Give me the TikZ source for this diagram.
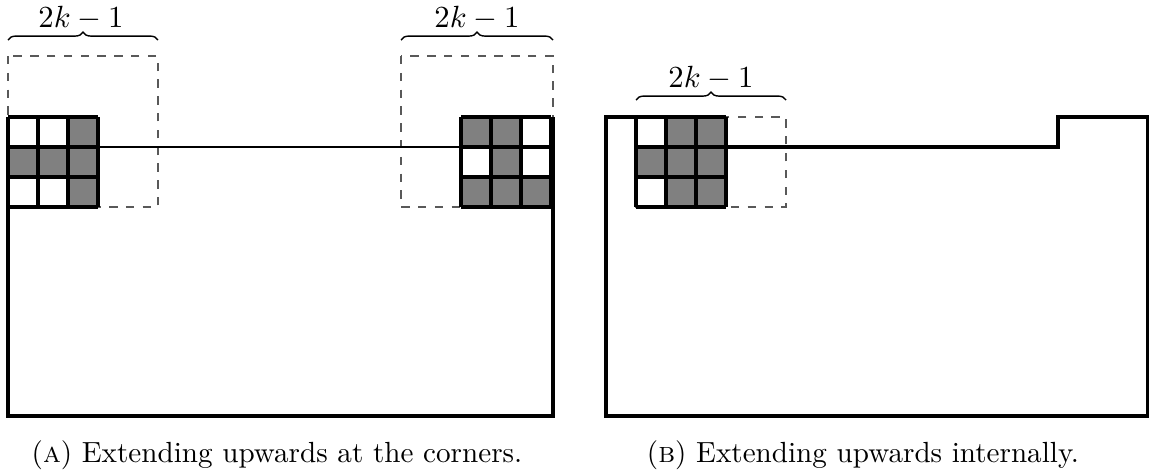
\documentclass[tikz,border=0pt]{standalone}
\usetikzlibrary{decorations.pathreplacing}
\begin{document}
\begin{tikzpicture}[x=0.357pt,y=-0.357pt,
  outline/.style={line width=1.1pt,line join=miter},
  gridline/.style={line width=1.3pt},
  hline/.style={line width=0.8pt},
  dashbox/.style={dashed,draw=black!65,line width=0.5pt},
  cellfill/.style={fill=gray},
  bracestyle/.style={decorate,decoration={brace,amplitude=2.8pt},line width=0.5pt},
  lab/.style={font=\fontsize{11}{13}\selectfont,inner sep=0pt,anchor=base},
  captext/.style={font=\fontsize{10.4}{12.5}\selectfont,inner sep=0pt,anchor=base}]
\useasboundingbox (0,0) rectangle (1149,473);
% ---------- panel A ----------
\draw[dashbox] (8,56) rectangle (158,207);
\draw[dashbox] (401,56) rectangle (553,207);
% left grid fills
\fill[cellfill] (68,117) rectangle (98,147);
\fill[cellfill] (8,147) rectangle (98,177);
\fill[cellfill] (68,177) rectangle (98,207);
% right grid fills
\fill[cellfill] (461,117) rectangle (521,147);
\fill[cellfill] (491,147) rectangle (521,177);
\fill[cellfill] (461,177) rectangle (551,207);
% grids
\foreach \i in {0,1,2,3} {
  \draw[gridline] (8+30*\i,117) -- (8+30*\i,207);
  \draw[gridline] (8,117+30*\i) -- (98,117+30*\i);
  \draw[gridline] (461+30*\i,117) -- (461+30*\i,207);
  \draw[gridline] (461,117+30*\i) -- (551,117+30*\i);
}
\draw[outline] (8,117) -- (8,416) -- (553,416) -- (553,117);
\draw[hline] (98,147) -- (461,147);
\draw[bracestyle] (8,40) -- (158,40);
\draw[bracestyle] (401,40) -- (553,40);
\node[lab] (la) at (81,27) {$2k-1$};
\node[lab] (lb) at (477,27) {$2k-1$};
\node[captext] (capa) at (277,462) {(\textsc{a}) Extending upwards at the corners.};
% ---------- panel B ----------
\draw[dashbox] (636,117) rectangle (786,207);
\fill[cellfill] (666,117) rectangle (726,207);
\fill[cellfill] (636,147) rectangle (666,177);
\foreach \i in {0,1,2,3} {
  \draw[gridline] (636+30*\i,117) -- (636+30*\i,207);
  \draw[gridline] (636,117+30*\i) -- (726,117+30*\i);
}
\draw[outline] (636,117) -- (606,117) -- (606,416) -- (1148,416) -- (1148,117) -- (1058,117) -- (1058,147) -- (726,147);
\draw[bracestyle] (636,100) -- (786,100);
\node[lab] (lc) at (711,87) {$2k-1$};
\node[captext] (capb) at (863,462) {(\textsc{b}) Extending upwards internally.};
\end{tikzpicture}
\end{document}
